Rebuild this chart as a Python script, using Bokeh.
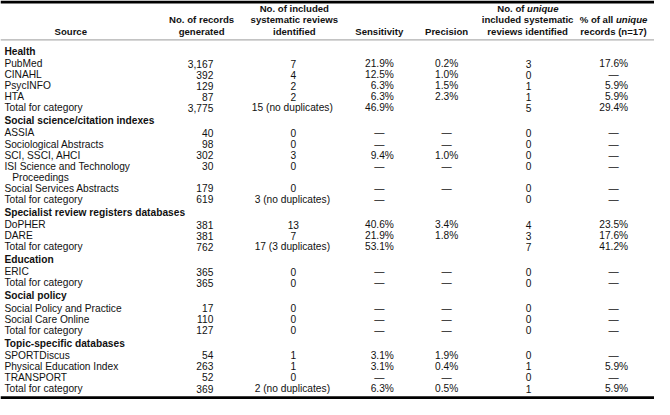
from bokeh.plotting import figure
from bokeh.models import Range1d, ColumnDataSource
from bokeh.core.properties import value
from bokeh.embed import file_html
from bokeh.resources import INLINE

# ---------------- data ----------------
categories = ["Health", "Social science/citation indexes",
              "Specialist review registers databases", "Education",
              "Social policy", "Topic-specific databases"]
cat_sizes = [5, 6, 3, 2, 3, 4]

sources = ["PubMed", "CINAHL", "PsycINFO", "HTA", "Total for category",
           "ASSIA", "Sociological Abstracts", "SCI, SSCI, AHCI",
           "ISI Science and Technology Proceedings", "Social Services Abstracts", "Total for category",
           "DoPHER", "DARE", "Total for category",
           "ERIC", "Total for category",
           "Social Policy and Practice", "Social Care Online", "Total for category",
           "SPORTDiscus", "Physical Education Index", "TRANSPORT", "Total for category"]
records = [3167, 392, 129, 87, 3775,
           40, 98, 302, 30, 179, 619,
           381, 381, 762,
           365, 365,
           17, 110, 127,
           54, 263, 52, 369]
included = [7, 4, 2, 2, 15,
            0, 0, 3, 0, 0, 3,
            13, 7, 17,
            0, 0,
            0, 0, 0,
            1, 1, 0, 2]
included_note = ["", "", "", "", "(no duplicates)",
                 "", "", "", "", "", "(no duplicates)",
                 "", "", "(3 duplicates)",
                 "", "",
                 "", "", "",
                 "", "", "", "(no duplicates)"]
# None -> dash, "" -> blank cell
sensitivity = [21.9, 12.5, 6.3, 6.3, 46.9,
               None, None, 9.4, None, None, None,
               40.6, 21.9, 53.1,
               None, None,
               None, None, None,
               3.1, 3.1, None, 6.3]
precision = [0.2, 1.0, 1.5, 2.3, "",
             None, None, 1.0, None, None, "",
             3.4, 1.8, "",
             None, None,
             None, None, None,
             1.9, 0.4, None, 0.5]
unique = [3, 0, 1, 1, 5,
          0, 0, 0, 0, 0, 0,
          4, 3, 7,
          0, 0,
          0, 0, 0,
          0, 1, 0, 1]
pct_unique = [17.6, None, 5.9, 5.9, 29.4,
              None, None, None, None, None, None,
              23.5, 17.6, 41.2,
              None, None,
              None, None, None,
              None, 5.9, None, 5.9]

# ---------------- figure ----------------
W, H = 670, 415
p = figure(width=654, height=399, x_range=Range1d(0, W), y_range=Range1d(H, 0),
           output_backend="svg", toolbar_location=None,
           x_axis_location=None, y_axis_location=None, min_border=0)
p.grid.visible = False
p.outline_line_color = None
p.background_fill_color = "white"
p.border_fill_color = "white"

FONT = value("Liberation Sans")
FS_BODY = "10.2px"
FS_HEAD = "9.6px"
DASH = "\u2014"

texts = {}


def add(x, y, t, align="left", style="normal", size=FS_BODY):
    key = (align, style, size)
    d = texts.setdefault(key, {"x": [], "y": [], "t": []})
    d["x"].append(x)
    d["y"].append(y)
    d["t"].append(t)


# header
hy = [8, 20, 32]
HB = dict(style="bold", size=FS_HEAD)
add(72, hy[2], "Source", "center", **HB)
add(206, hy[1], "No. of records", "center", **HB)
add(206, hy[2], "generated", "center", **HB)
add(301, hy[0], "No. of included", "center", **HB)
add(301, hy[1], "systematic reviews", "center", **HB)
add(301, hy[2], "identified", "center", **HB)
add(388, hy[2], "Sensitivity", "center", **HB)
add(457, hy[2], "Precision", "center", **HB)
add(539.5, hy[0], "No. of ", "right", **HB)
add(539.5, hy[0], "unique", "left", style="bold italic", size=FS_HEAD)
add(540, hy[1], "included systematic", "center", **HB)
add(540, hy[2], "reviews identified", "center", **HB)
add(630.5, hy[1], "% of all ", "right", **HB)
add(630.5, hy[1], "unique", "left", style="bold italic", size=FS_HEAD)
add(628, hy[2], "records (n=17)", "center", **HB)

# body
R = 11.5     # row pitch
G1 = 13.6    # last row -> next category heading
G2 = 12.6    # heading -> first row
y = 53
i = 0
for ci, cat in enumerate(categories):
    if ci > 0:
        y += G1
    add(4, y, cat, "left", "bold")
    y += G2
    for k in range(cat_sizes[ci]):
        if k > 0:
            y += R
        src = sources[i]
        if src.startswith("ISI "):
            add(4, y, "ISI Science and Technology")
            add(12, y + R, "Proceedings")
        else:
            add(4, y, src)
        add(218, y, f"{records[i]:,}", "right")
        if included_note[i]:
            add(299, y, f"{included[i]} {included_note[i]}", "center")
        else:
            add(300, y, str(included[i]), "center")
        s = sensitivity[i]
        if s is None:
            add(388, y, DASH, "center")
        elif s != "":
            add(403, y, f"{s:.1f}%", "right")
        pr = precision[i]
        if pr is None:
            add(457, y, DASH, "center")
        elif pr != "":
            add(469, y, f"{pr:.1f}%", "right")
        add(541, y, str(unique[i]), "center")
        pc = pct_unique[i]
        if pc is None:
            add(628, y, DASH, "center")
        else:
            add(643, y, f"{pc:.1f}%", "right")
        if src.startswith("ISI "):
            y += R
        i += 1

for (align, style, size), d in texts.items():
    src = ColumnDataSource(dict(x=d["x"], y=d["y"], t=d["t"]))
    p.text(x="x", y="y", text="t", source=src, text_align=align,
           text_baseline="middle", text_font=FONT, text_font_size=size,
           text_font_style=style, text_color="#111111")

# rules
p.segment(x0=[0], y0=[1.5], x1=[W], y1=[1.5], line_color="black", line_width=3)
p.segment(x0=[0], y0=[41], x1=[W], y1=[41], line_color="#9a9a9a", line_width=1)
p.segment(x0=[0], y0=[413.3], x1=[W], y1=[413.3], line_color="black", line_width=3)

open("out.html", "w").write(file_html(p, INLINE))
